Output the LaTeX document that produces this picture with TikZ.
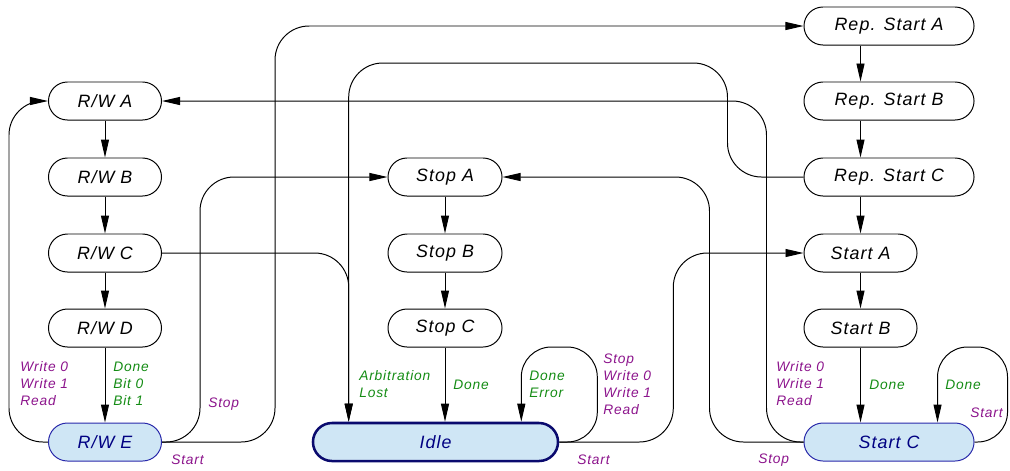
\documentclass[tikz,border=0pt]{standalone}
\usepackage{fontspec}
\usepackage{xcolor}
\usetikzlibrary{arrows.meta, calc}
\newfontfamily\isofont[LetterSpace=6]{Liberation Sans}
\newcommand{\statefont}{\isofont\itshape\fontsize{12.7}{15}\selectfont}
\newcommand{\notefont}{\isofont\itshape\fontsize{9.8}{12.1}\selectfont}
\definecolor{cmdcol}{RGB}{140,20,140}
\definecolor{evtcol}{RGB}{20,140,20}
\definecolor{busyfill}{RGB}{207,230,245}
\definecolor{busyline}{RGB}{40,40,170}
\definecolor{busytext}{RGB}{0,0,130}
\definecolor{idleline}{RGB}{10,10,110}
\tikzset{
		rounded state/.style={draw, line width=0.7pt, rounded corners=0.475cm, minimum height=0.95cm, inner sep=0pt, font=\statefont},
		active state/.style={rounded state, fill=busyfill, draw=busyline, text=busytext},
		idle state/.style={active state, draw=idleline, line width=1.8pt},
		cmd/.style={font=\notefont, text=cmdcol, align=left, inner sep=0pt, anchor=west},
		evt/.style={cmd, text=evtcol},
		link/.style={->, line width=0.7pt, rounded corners=0.85cm},
		loop link/.style={link, rounded corners=0.75cm}
	}

\begin{document}
\begin{tikzpicture}[x=0.025cm, y=-0.025cm, >={Triangle[length=0.45cm, width=0.2cm]}]
		\useasboundingbox (0,0) rectangle (1010,470);

		\node[rounded state, minimum width=2.825cm] (rwA)   at (105,101)   {R/W A};
		\node[rounded state, minimum width=2.825cm] (rwB)   at (105,177)   {R/W B};
		\node[rounded state, minimum width=2.825cm] (rwC)   at (105,253)   {R/W C};
		\node[rounded state, minimum width=2.825cm] (rwD)   at (105,328)   {R/W D};
		\node[active state, minimum width=2.825cm]  (rwE)   at (105,442)   {R/W E};
		\node[rounded state, minimum width=2.85cm]  (stopA) at (445,177)   {Stop A};
		\node[rounded state, minimum width=2.85cm]  (stopB) at (445,253)   {Stop B};
		\node[rounded state, minimum width=2.85cm]  (stopC) at (445,328)   {Stop C};
		\node[idle state, minimum width=6.125cm]    (idle)  at (435.5,442) {Idle};
		\node[rounded state, minimum width=4.25cm]  (rsA)   at (889,26)    {Rep. Start A};
		\node[rounded state, minimum width=4.25cm]  (rsB)   at (889,101)   {Rep. Start B};
		\node[rounded state, minimum width=4.25cm]  (rsC)   at (889,177)   {Rep. Start C};
		\node[rounded state, minimum width=2.825cm] (stA)   at (860.5,253) {Start A};
		\node[rounded state, minimum width=2.825cm] (stB)   at (860.5,328) {Start B};
		\node[active state, minimum width=4.25cm]   (stC)   at (889,442)   {Start C};

		% straight chains
		\draw[link] (rwA) -- (rwB);
		\draw[link] (rwB) -- (rwC);
		\draw[link] (rwC) -- (rwD);
		\draw[link] (rwD) -- (rwE);
		\draw[link] (stopA) -- (stopB);
		\draw[link] (stopB) -- (stopC);
		\draw[link] (stopC.south) -- (stopC.south |- idle.north);
		\draw[link] (rsA.south -| stA) -- (rsB.north -| stA);
		\draw[link] (rsB.south -| stA) -- (rsC.north -| stA);
		\draw[link] (rsC.south -| stA) -- (stA);
		\draw[link] (stA) -- (stB);
		\draw[link] (stB.south) -- (stB.south |- stC.north);

		% routed connectors
		\draw[link] (rwE.west) -- ++(-39,0) |- (rwA.west);
		\draw[link] (rwE.east) -- ++(38,0) |- (stopA.west);
		\draw[link] (rwE.east) -- ++(113,0) |- (rsA.west);
		\draw[link] (rwC.east) -| ($(idle.north west)+(37,0)$);
		\draw[link] (rsC.west) -- ++(-76,0) -- ++(0,-114) -| ($(idle.north west)+(37,0)$);
		\draw[link] (idle.east) -- ++(114,0) |- (stA.west);
		\draw[link] (stC.west) -- ++(-94,0) |- (stopA.east);
		\draw[link] (stC.west) -- ++(-37,0) |- (rwA.east);

		% self loops
		\draw[loop link] (idle.east) -- ++(38,0) -- ++(0,-95) -| ($(idle.north east)+(-38,0)$);
		\draw[loop link] (stC.east) -- ++(33,0) -- ++(0,-95) -| ($(stC.north east)+(-37,0)$);

		% labels
		\node[cmd] (rwEcmd)    at (20,384)    {Write 0\\Write 1\\Read};
		\node[evt] (rwDdone)   at (113,384)   {Done\\Bit 0\\Bit 1};
		\node[cmd] (rwEstop)   at (208,404)   {Stop};
		\node[cmd] (rwEstart)  at (171,460)   {Start};
		\node[evt] (arbLost)   at (359,384.5) {Arbitration\\Lost};
		\node[evt] (stopDone)  at (453,385)   {Done};
		\node[evt] (idleEvt)   at (529,384.5) {Done\\Error};
		\node[cmd] (idleCmd)   at (603,384.5) {Stop\\Write 0\\Write 1\\Read};
		\node[cmd] (idleStart) at (577,460)   {Start};
		\node[cmd] (stCcmd)    at (776,384)   {Write 0\\Write 1\\Read};
		\node[cmd] (stCstop)   at (758,460)   {Stop};
		\node[evt] (startDone) at (869,385)   {Done};
		\node[evt] (stCevt)    at (945,385)   {Done};
		\node[cmd] (stCstart)  at (970,413)   {Start};

	\end{tikzpicture}
\end{document}
